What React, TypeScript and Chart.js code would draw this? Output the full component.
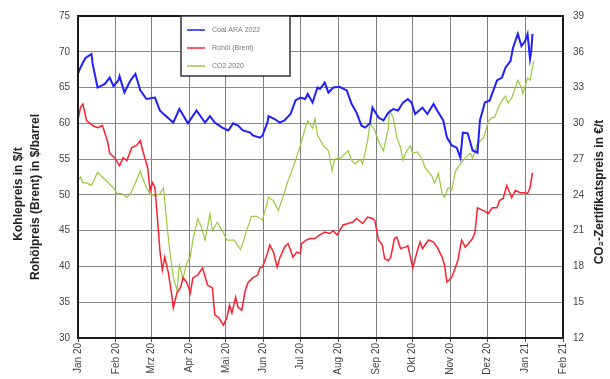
import React, { useEffect, useRef } from "react";
import { Chart, registerables } from "chart.js";

Chart.register(...registerables);

const monthDays = [0, 31, 60, 91, 121, 152, 182, 213, 244, 274, 305, 335, 366, 397];
const monthLabels = ["Jan 20", "Feb 20", "Mrz 20", "Apr 20", "Mai 20", "Jun 20", "Jul 20", "Aug 20", "Sep 20", "Okt 20", "Nov 20", "Dez 20", "Jan 21", "Feb 21"];

const seriesLabels = ["Coal ARA 2022", "Rohöl (Brent)", "CO2 2020"];

const coalDays = [0,2,6,11,12,16,22,26,29,33,34,38,43,47,51,56,63,67,70,78,83,90,97,104,108,112,118,123,127,131,135,141,143,149,151,155,156,161,165,169,174,178,182,186,188,192,196,198,202,205,209,214,220,224,228,232,235,239,241,246,250,254,258,262,266,270,273,276,282,286,291,294,299,302,306,310,313,315,319,323,327,329,333,337,340,343,347,350,354,356,360,363,366,368,370,371,372];
const coalPrice = [66.9,67.8,69.1,69.7,68.3,65.0,65.5,66.4,65.2,66.0,66.6,64.3,66.0,66.9,64.6,63.4,63.6,61.8,61.3,60.1,62.0,60.0,61.8,60.1,61.0,60.1,59.4,59.0,60.0,59.7,59.0,58.7,58.3,58.0,58.3,60.1,61.0,60.6,60.1,60.4,61.3,63.2,63.6,63.4,64.1,62.9,65.0,64.8,65.7,64.3,65.0,65.1,64.6,62.7,61.5,59.7,59.4,60.0,62.2,60.8,60.4,61.5,62.0,61.8,62.9,63.4,62.9,61.3,62.2,61.3,62.7,61.8,60.4,58.0,56.9,56.6,55.2,58.7,58.6,56.2,55.9,60.4,62.9,63.2,64.6,66.0,66.4,67.8,68.7,70.5,72.5,70.8,71.5,72.5,69.0,70.1,72.5];

const brentDays = [0,2,4,7,12,16,20,24,26,30,34,37,40,44,48,51,53,57,59,61,63,66,67,69,71,74,77,78,81,84,86,89,92,94,98,102,106,110,112,115,119,122,124,126,129,131,134,137,139,143,147,149,151,155,157,160,163,165,169,172,176,179,182,183,187,190,194,198,202,206,209,212,217,221,225,228,233,237,241,243,246,249,251,254,256,259,261,264,268,270,274,278,280,282,287,291,294,298,300,302,306,309,311,314,317,323,325,327,332,336,339,343,345,348,351,355,358,362,366,368,370,372];
const brentPrice = [60.4,62.2,62.7,60.4,59.7,59.4,59.7,57.6,55.8,55.2,54.1,55.2,54.8,56.6,56.9,57.6,56.2,53.8,50.6,51.7,51.0,44.6,42.3,39.5,41.3,39.1,35.7,34.2,36.3,37.1,38.4,37.8,36.3,38.4,38.8,39.8,37.4,37.0,33.2,32.9,31.8,32.9,34.6,33.5,35.7,34.3,33.9,36.7,37.7,38.4,38.8,39.8,39.9,41.8,43.0,42.0,39.9,41.1,42.7,43.2,41.3,42.0,41.8,43.2,43.7,43.9,43.9,44.4,44.8,44.6,45.0,44.4,45.8,46.0,46.2,46.7,46.0,46.9,46.7,46.4,43.7,43.0,41.1,40.8,41.3,43.9,44.1,42.5,42.7,42.9,39.8,42.3,43.4,42.5,43.7,43.4,42.7,41.3,40.2,37.8,38.5,39.9,40.9,43.7,42.7,43.9,44.8,48.2,47.8,47.4,48.2,48.2,49.2,49.5,51.3,49.6,50.6,50.3,50.3,50.2,51.0,53.1];

const co2Days = [0,2,4,7,11,16,20,25,29,32,36,40,43,47,51,53,56,59,63,67,70,71,73,75,78,81,83,86,89,92,94,98,101,104,108,110,114,118,122,124,128,133,135,138,142,146,151,154,156,160,164,168,172,176,180,183,186,188,192,194,196,201,205,208,210,215,219,221,224,227,231,233,237,239,243,246,250,254,255,258,261,264,266,269,272,274,278,282,284,287,290,292,295,298,300,303,306,309,313,317,321,323,327,332,336,339,341,344,347,350,352,355,358,360,363,364,368,370,372,373];
const co2Price = [25.2,25.5,25.0,25.0,24.8,25.9,25.5,25.0,24.6,24.1,24.1,23.8,24.1,25.0,26.0,25.4,24.6,24.1,23.9,24.1,24.6,23.5,21.3,19.4,17.1,16.0,18.1,17.0,18.3,18.8,20.2,22.0,21.3,20.2,22.4,21.0,21.7,21.0,20.2,20.2,20.2,19.4,20.0,21.0,22.2,22.2,21.9,23.0,23.8,23.5,22.7,23.9,25.2,26.3,27.5,28.5,29.6,30.2,29.6,30.4,29.0,28.1,27.7,26.0,27.0,27.1,27.5,27.7,26.9,26.6,27.0,26.6,28.5,30.0,29.4,28.5,27.7,29.6,31.1,30.5,28.8,28.0,26.9,27.7,28.1,27.5,27.6,26.9,26.3,25.9,25.5,25.0,25.8,24.1,23.8,24.6,24.4,26.0,26.6,27.1,27.5,27.1,28.3,28.8,30.2,30.5,30.5,31.3,31.9,32.3,31.7,32.1,33.0,33.6,33.0,32.5,33.8,33.6,34.7,35.2];

const leftTitle = ["Kohlepreis in $/t", "Rohölpreis (Brent) in $/barrel"];
const rightTitle = "CO₂-Zertifikatspreis in €/t";

const FONT = "'Liberation Sans', Arial, sans-serif";

const toPoints = (xs: number[], ys: number[]) => xs.map((x, i) => ({ x, y: ys[i] }));

const framePlugin = {
  id: "frameAndExtras",
  afterDraw(chart: any) {
    const { ctx, chartArea } = chart;
    const { left, right, top, bottom } = chartArea;
    ctx.save();
    ctx.strokeStyle = "#1a1a1a";
    ctx.lineWidth = 2;
    ctx.strokeRect(left, top, right - left, bottom - top);

    const bx = 181, by = top, bw = 109, bh = 60;
    ctx.fillStyle = "#ffffff";
    ctx.fillRect(bx, by, bw, bh);
    ctx.strokeStyle = "#333333";
    ctx.lineWidth = 1.5;
    ctx.strokeRect(bx, by, bw, bh);
    const dsets = chart.data.datasets;
    ctx.font = `7px ${FONT}`;
    ctx.textBaseline = "middle";
    ctx.textAlign = "left";
    dsets.forEach((d: any, i: number) => {
      const y = by + 14 + i * 18;
      ctx.strokeStyle = d.borderColor;
      ctx.lineWidth = 1.5;
      ctx.beginPath();
      ctx.moveTo(bx + 6, y);
      ctx.lineTo(bx + 24, y);
      ctx.stroke();
      ctx.fillStyle = "#777";
      ctx.fillText(d.label, bx + 31, y);
    });

    ctx.fillStyle = "#222";
    ctx.font = `bold 12px ${FONT}`;
    ctx.textAlign = "center";
    ctx.textBaseline = "middle";
    const cyL = [194, 197];
    leftTitle.forEach((t, i) => {
      ctx.save();
      ctx.translate(19 + i * 17, cyL[i]);
      ctx.rotate(-Math.PI / 2);
      ctx.fillText(t, 0, 0);
      ctx.restore();
    });
    ctx.save();
    ctx.translate(600, 192);
    ctx.rotate(-Math.PI / 2);
    ctx.fillText(rightTitle, 0, 0);
    ctx.restore();
    ctx.restore();
  },
};

export default function App() {
  const ref = useRef<HTMLCanvasElement | null>(null);
  useEffect(() => {
    if (!ref.current) return;
    const chart = new Chart(ref.current, {
      type: "line",
      data: {
        datasets: [
          {
            label: seriesLabels[0],
            data: toPoints(coalDays, coalPrice),
            borderColor: "#1f1fff",
            borderWidth: 2,
            pointRadius: 0,
            tension: 0,
            yAxisID: "y",
          },
          {
            label: seriesLabels[1],
            data: toPoints(brentDays, brentPrice),
            borderColor: "#ff1f2f",
            borderWidth: 1.5,
            pointRadius: 0,
            tension: 0,
            yAxisID: "y",
          },
          {
            label: seriesLabels[2],
            data: toPoints(co2Days, co2Price),
            borderColor: "#9cc93c",
            borderWidth: 1.2,
            pointRadius: 0,
            tension: 0,
            yAxisID: "y2",
          },
        ],
      },
      options: {
        animation: false,
        responsive: true,
        maintainAspectRatio: false,
        layout: { padding: { top: 15, left: 0, right: 0, bottom: 0 } },
        plugins: { legend: { display: false }, tooltip: { enabled: false } },
        scales: {
          x: {
            type: "linear",
            min: 0,
            max: 397,
            afterBuildTicks: (scale: any) => {
              scale.ticks = monthDays.map((v) => ({ value: v }));
            },
            afterFit: (scale: any) => {
              scale.height = 41;
            },
            ticks: {
              autoSkip: false,
              maxRotation: 90,
              minRotation: 90,
              padding: 1,
              color: "#444",
              font: { family: FONT, size: 10 },
              callback: (v: any) => {
                const i = monthDays.indexOf(Number(v));
                return i >= 0 ? monthLabels[i] : "";
              },
            },
            grid: { color: "#808080", lineWidth: 1, drawTicks: true, tickLength: 4, tickColor: "#555" },
            border: { display: false },
          },
          y: {
            type: "linear",
            position: "left",
            min: 30,
            max: 75,
            afterFit: (scale: any) => {
              scale.width = 78;
            },
            ticks: { stepSize: 5, padding: 8, color: "#444", font: { family: FONT, size: 10 } },
            grid: { color: "#8a8a8a", lineWidth: 1, drawTicks: false },
            border: { display: false },
          },
          y2: {
            type: "linear",
            position: "right",
            min: 12,
            max: 39,
            afterFit: (scale: any) => {
              scale.width = 47;
            },
            ticks: { stepSize: 3, padding: 10, color: "#444", font: { family: FONT, size: 10 } },
            grid: { display: false, drawTicks: false },
            border: { display: false },
          },
        },
      },
      plugins: [framePlugin],
    } as any);
    return () => chart.destroy();
  }, []);
  return (
    <div style={{ position: "fixed", left: 0, top: 0, width: 610, height: 379, background: "#fff" }}>
      <canvas ref={ref} />
    </div>
  );
}
